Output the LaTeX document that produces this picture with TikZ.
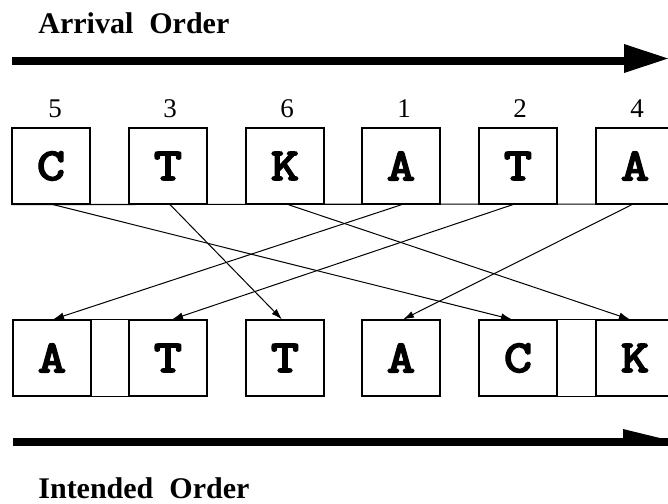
\documentclass[tikz,border=0pt]{standalone}
\usepackage{fontspec}
\setmainfont{Liberation Serif}
\newfontfamily\courfont[FakeBold=4.5,FakeStretch=1.2]{Latin Modern Mono}
\usetikzlibrary{arrows.meta}
\begin{document}
\begin{tikzpicture}[x=0.5pt,y=-0.5pt,
  cell/.style={draw, line width=0.55pt, minimum width=39pt, minimum height=38pt, inner sep=0pt,
    font=\courfont\fontsize{22.5}{22.5}\selectfont},
  num/.style={font=\fontsize{13.5}{13.5}\selectfont, anchor=base, inner sep=0pt},
  ttl/.style={font=\bfseries\fontsize{15}{15}\selectfont, anchor=base west, inner sep=0pt},
  link/.style={line width=0.5pt, -{Latex[length=5.5pt,width=3.5pt]}},
  bigarrow/.style={line width=3.75pt}]
\useasboundingbox (0,0) rectangle (668,503);
\clip (0,0) rectangle (668,503);
% titles
\node[ttl] (arr) at (38,33) {Arrival\hspace{8pt}Order};
\node[ttl] (int) at (38,498) {Intended\hspace{8pt}Order};
% top arrow
\coordinate (ta0) at (12,61);
\coordinate (ta1) at (626,61);
\draw[bigarrow] (ta0) -- (ta1);
\fill (624,44) -- (668,58.5) -- (624,73) -- cycle;
% bottom arrow
\coordinate (ba0) at (13,442);
\coordinate (ba1) at (668,442);
\draw[bigarrow] (ba0) -- (ba1);
\fill (623,429) -- (668,440) -- (668,445.75) -- (623,445.75) -- cycle;
% top row
\node[cell] (t1) at (51,166) {C};
\node[cell] (t2) at (168,166) {T};
\node[cell] (t3) at (285,166) {K};
\node[cell] (t4) at (401,166) {A};
\node[cell] (t5) at (518,166) {T};
\node[cell] (t6) at (635,166) {A};
\coordinate (base) at (668,204);
\draw[line width=0.55pt] (t1.south west) -- (base);
% numbers
\node[num] (n1) at (55,117) {5};
\node[num] (n2) at (170,117) {3};
\node[num] (n3) at (287,117) {6};
\node[num] (n4) at (404,117) {1};
\node[num] (n5) at (520,117) {2};
\node[num] (n6) at (637,117) {4};
% bottom row
\node[cell] (b1) at (52,358) {A};
\node[cell] (b2) at (168,358) {T};
\node[cell] (b3) at (285,358) {T};
\node[cell] (b4) at (401,358) {A};
\node[cell] (b5) at (518,358) {C};
\node[cell] (b6) at (635,358) {K};
\draw[line width=0.55pt] (b1.north east) -- (b2.north west) (b1.south east) -- (b2.south west);
\draw[line width=0.55pt] (b5.north east) -- (b6.north west) (b5.south east) -- (b6.south west);
% connectors
\draw[link] ([xshift=1pt]t1.south) -- ([xshift=-3pt]b5.north);
\draw[link] ([xshift=1pt]t2.south) -- ([xshift=-1.5pt]b3.north);
\draw[link] ([xshift=1.5pt]t3.south) -- ([xshift=-2.5pt]b6.north);
\draw[link] ([xshift=0.5pt]t4.south) -- ([xshift=0.5pt]b1.north);
\draw[link] ([xshift=-2.5pt]t5.south) -- ([xshift=2pt]b2.north);
\draw[link] ([xshift=-1.5pt]t6.south) -- ([xshift=1pt]b4.north);
\end{tikzpicture}
\end{document}
